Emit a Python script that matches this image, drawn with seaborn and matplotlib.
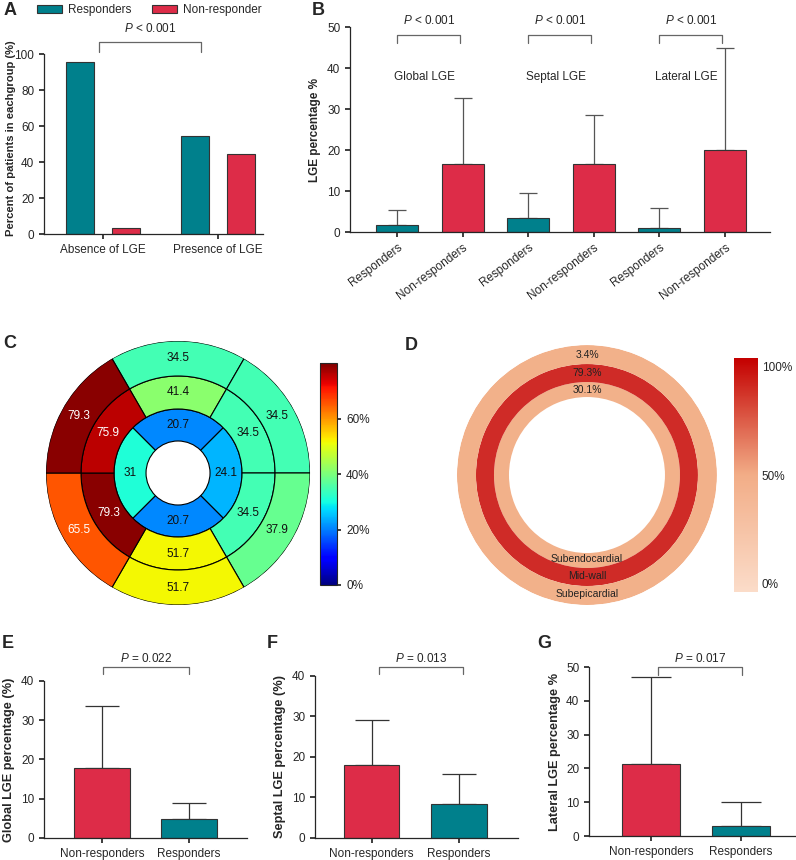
import numpy as np
import pandas as pd
import matplotlib
matplotlib.use('Agg')
import matplotlib.pyplot as plt
import seaborn as sns
from matplotlib.colors import Normalize, LinearSegmentedColormap
from matplotlib.cm import ScalarMappable

sns.set_theme(style='ticks')
plt.rcParams['font.family'] = ['Liberation Sans', 'DejaVu Sans']
plt.rcParams['mathtext.fontset'] = 'custom'
plt.rcParams['mathtext.it'] = 'Liberation Sans:italic'
plt.rcParams['mathtext.rm'] = 'Liberation Sans'
plt.rcParams['font.size'] = 8.5
plt.rcParams['axes.labelsize'] = 8.5
plt.rcParams['axes.linewidth'] = 0.9
plt.rcParams['xtick.major.size'] = 3.5
plt.rcParams['ytick.major.size'] = 3.5
plt.rcParams['xtick.labelsize'] = 8.5
plt.rcParams['ytick.labelsize'] = 8.5

TEAL = '#00808c'
RED = '#dd2c48'
EDGE = '#333333'

# ---- data ----
# A: percent of patients in each group
lge_groups = ['Absence of LGE', 'Presence of LGE']
resp_pct = [95.5, 54.5]
nonresp_pct = [3.5, 44.5]

# B: LGE percentage by region (mean, upper SD)
regions = ['Global LGE', 'Septal LGE', 'Lateral LGE']
b_resp_mean = [1.7, 3.3, 1.1]
b_resp_sd = [3.7, 6.2, 4.8]
b_non_mean = [16.6, 16.6, 19.9]
b_non_sd = [16.2, 11.9, 25.1]

# C: bullseye (% of non-responders with LGE per segment)
basal_vals = [34.5, 34.5, 37.9, 51.7, 65.5, 79.3]
mid_vals = [41.4, 34.5, 34.5, 51.7, 79.3, 75.9]
apical_vals = [20.7, 24.1, 20.7, 31]

# D: layer distribution
layers = ['Subendocardial', 'Mid-wall', 'Subepicardial']
layer_pct = [30.1, 79.3, 3.4]

# E-G
two_groups = ['Non-responders', 'Responders']
e_mean, e_sd = [17.7, 4.8], [16.0, 4.1]
f_mean, f_sd = [17.9, 8.4], [11.3, 7.5]
g_mean, g_sd = [21.3, 2.9], [25.6, 7.1]

fig = plt.figure(figsize=(7.96, 8.6), dpi=100)


def bracket(ax, x1, x2, y, tip, text, ty):
    ax.plot([x1, x1, x2, x2], [y - tip, y, y, y - tip], color='#666666', lw=0.9, clip_on=False)
    ax.text((x1 + x2) / 2, ty, text, ha='center', va='center', fontsize=8.5, clip_on=False)


# ---- A ----
ax_a = fig.add_axes([0.0553, 0.7279, 0.2751, 0.2093])
df_a = pd.DataFrame({'group': lge_groups * 2,
                     'pct': resp_pct + nonresp_pct,
                     'status': ['Responders'] * 2 + ['Non-responder'] * 2})
sns.barplot(data=df_a, x='group', y='pct', hue='status', palette=[TEAL, RED], saturation=1,
            width=0.8, gap=0.4, edgecolor=EDGE, linewidth=0.8, ax=ax_a)
ax_a.set_xlim(-0.51, 1.39)
ax_a.set_ylim(0, 100)
ax_a.set_yticks(range(0, 101, 20))
ax_a.set_xlabel('')
ax_a.set_ylabel('Percent of patients in eachgroup (%)', fontweight='bold', fontsize=8.1)
ax_a.yaxis.set_label_coords(-0.13, 0.53)
sns.despine(ax=ax_a)
sns.move_legend(ax_a, 'center left', bbox_to_anchor=(0.0465, 0.988), bbox_transform=fig.transFigure,
                ncol=2, frameon=False, title=None, borderaxespad=0, borderpad=0,
                handlelength=2.1, handleheight=0.6, handletextpad=0.5, columnspacing=1.8, fontsize=8.5)
bracket(ax_a, -0.03, 0.85, 106.7, 5.5, r'$P$ < 0.001', 114)

# ---- B ----
ax_b = fig.add_axes([0.4397, 0.7302, 0.5276, 0.2384])
b_keys, b_vals, b_errs, b_cols = [], [], [], []
for r, rm, rs, nm, ns in zip(regions, b_resp_mean, b_resp_sd, b_non_mean, b_non_sd):
    b_keys += [r + ' R', r + ' N']
    b_vals += [rm, nm]
    b_errs += [rs, ns]
    b_cols += [TEAL, RED]
sns.barplot(x=b_keys, y=b_vals, hue=b_keys, palette=b_cols, saturation=1, width=0.64, legend=False,
            edgecolor=EDGE, linewidth=0.8, ax=ax_b)
ax_b.errorbar(range(len(b_vals)), b_vals, yerr=[np.zeros(len(b_vals)), b_errs], fmt='none',
              ecolor='#555555', elinewidth=0.9, capsize=6.8, capthick=0.9, zorder=0.5)
ax_b.set_xlim(-0.72, 5.69)
ax_b.set_ylim(0, 50)
ax_b.set_yticks(range(0, 51, 10))
ax_b.set_xticks(range(6))
ax_b.set_xticklabels(['Responders', 'Non-responders'] * 3, rotation=37, ha='right',
                     rotation_mode='anchor')
ax_b.set_ylabel('LGE percentage %', fontweight='bold', fontsize=8.5)
sns.despine(ax=ax_b)
for k, r in enumerate(regions):
    bracket(ax_b, 2 * k, 2 * k + 0.96, 48, 2, r'$P$ < 0.001', 51.6)
    ax_b.text(2 * k + 0.42, 37.8, r, ha='center', va='center', fontsize=8.5)

# ---- C ----
ax_c = fig.add_axes([0.0578, 0.2965, 0.3317, 0.3070], projection='polar')
norm_c = Normalize(0, 80)
cmap_c = plt.get_cmap('jet')
rings = [(apical_vals, [90, 0, 270, 180], 32, 64),
         (mid_vals, [90, 30, 330, 270, 210, 150], 64, 97),
         (basal_vals, [90, 30, 330, 270, 210, 150], 97, 132)]
for vals, angles, r0, r1 in rings:
    th = np.deg2rad(angles)
    w = 2 * np.pi / len(vals)
    ax_c.bar(th, r1 - r0, width=w, bottom=r0, color=cmap_c(norm_c(vals)),
             edgecolor='black', linewidth=0.8)
    for t, v in zip(th, vals):
        ax_c.text(t, (r0 + r1) / 2, f'{v:g}', ha='center', va='center', fontsize=8.5,
                  color='white' if v > 60 else '#111111')
ax_c.set_ylim(0, 132)
ax_c.set_axis_off()

cax_c = fig.add_axes([0.402, 0.3198, 0.0214, 0.258])
cb_c = fig.colorbar(ScalarMappable(norm=norm_c, cmap=cmap_c), cax=cax_c, ticks=[0, 20, 40, 60])
cb_c.ax.set_yticklabels(['0%', '20%', '40%', '60%'])
cb_c.outline.set_linewidth(0.8)
cb_c.ax.tick_params(length=3, labelsize=8.5)

# ---- D ----
ax_d = fig.add_axes([0.5741, 0.2965, 0.3266, 0.3023], projection='polar')
layer_bounds = [(78, 93), (93, 111), (111, 130)]
layer_colors = ['#f2b18a', '#cf2b27', '#f2b18a']
for (r0, r1), c, name, p in zip(layer_bounds, layer_colors, layers, layer_pct):
    ax_d.bar(0, r1 - r0, width=2 * np.pi, bottom=r0, color=c, edgecolor='none')
    ax_d.text(np.pi / 2, (r0 + r1) / 2, f'{p}%', ha='center', va='center', fontsize=7.5, color='#222222')
    ax_d.text(3 * np.pi / 2, (r0 + r1) / 2 - 1.5, name, ha='center', va='center', fontsize=7.5, color='#222222')
ax_d.set_ylim(0, 130)
ax_d.set_axis_off()

cmap_d = LinearSegmentedColormap.from_list('layer', ['#fbdcc9', '#f2ad87', '#c40000'])
cax_d = fig.add_axes([0.922, 0.3116, 0.030, 0.272])
cb_d = fig.colorbar(ScalarMappable(norm=Normalize(-3.7, 103.7), cmap=cmap_d), cax=cax_d,
                    ticks=[0, 50, 100])
cb_d.ax.set_yticklabels(['0%', '50%', '100%'])
cb_d.outline.set_visible(False)
cb_d.ax.tick_params(length=0, labelsize=8.5, pad=3)


# ---- E, F, G ----
def two_bar(rect, means, sds, ylabel, ymax, xlim, capsize, brk, ptext):
    ax = fig.add_axes(rect)
    sns.barplot(x=two_groups, y=means, hue=two_groups, palette=[RED, TEAL], saturation=1, width=0.64,
                legend=False, edgecolor=EDGE, linewidth=0.8, ax=ax)
    ax.errorbar([0, 1], means, yerr=[[0, 0], sds], fmt='none', ecolor='#333333',
                elinewidth=0.9, capsize=capsize, capthick=0.9, zorder=0.5)
    ax.set_xlim(*xlim)
    ax.set_ylim(0, ymax)
    ax.set_yticks(range(0, ymax + 1, 10))
    ax.set_ylabel(ylabel, fontweight='bold', fontsize=9.2)
    sns.despine(ax=ax)
    bracket(ax, brk[0], brk[1], brk[2], brk[3], ptext, brk[4])
    return ax


two_bar([0.0553, 0.0256, 0.255, 0.1826], e_mean, e_sd, 'Global LGE percentage (%)', 40,
        (-0.67, 1.67), 12.5, (0.01, 1.0, 43.5, 1.8, 45.8), r'$P$ = 0.022')
two_bar([0.3957, 0.0256, 0.255, 0.1884], f_mean, f_sd, 'Septal LGE percentage (%)', 40,
        (-0.65, 1.68), 12.5, (0.08, 1.05, 42.2, 1.7, 44.4), r'$P$ = 0.013')
two_bar([0.740, 0.0279, 0.26, 0.1965], g_mean, g_sd, 'Lateral LGE percentage %', 50,
        (-0.69, 1.61), 14.5, (0.08, 1.01, 50, 2.3, 52.5), r'$P$ = 0.017')

# panel letters
for s, x, y in [('A', 0.004, 0.988), ('B', 0.392, 0.988), ('C', 0.004, 0.601), ('D', 0.508, 0.598),
                ('E', 0.002, 0.252), ('F', 0.335, 0.252), ('G', 0.675, 0.252)]:
    fig.text(x, y, s, fontsize=13, fontweight='bold', va='center', ha='left')

fig.savefig('out.png', dpi=100)
